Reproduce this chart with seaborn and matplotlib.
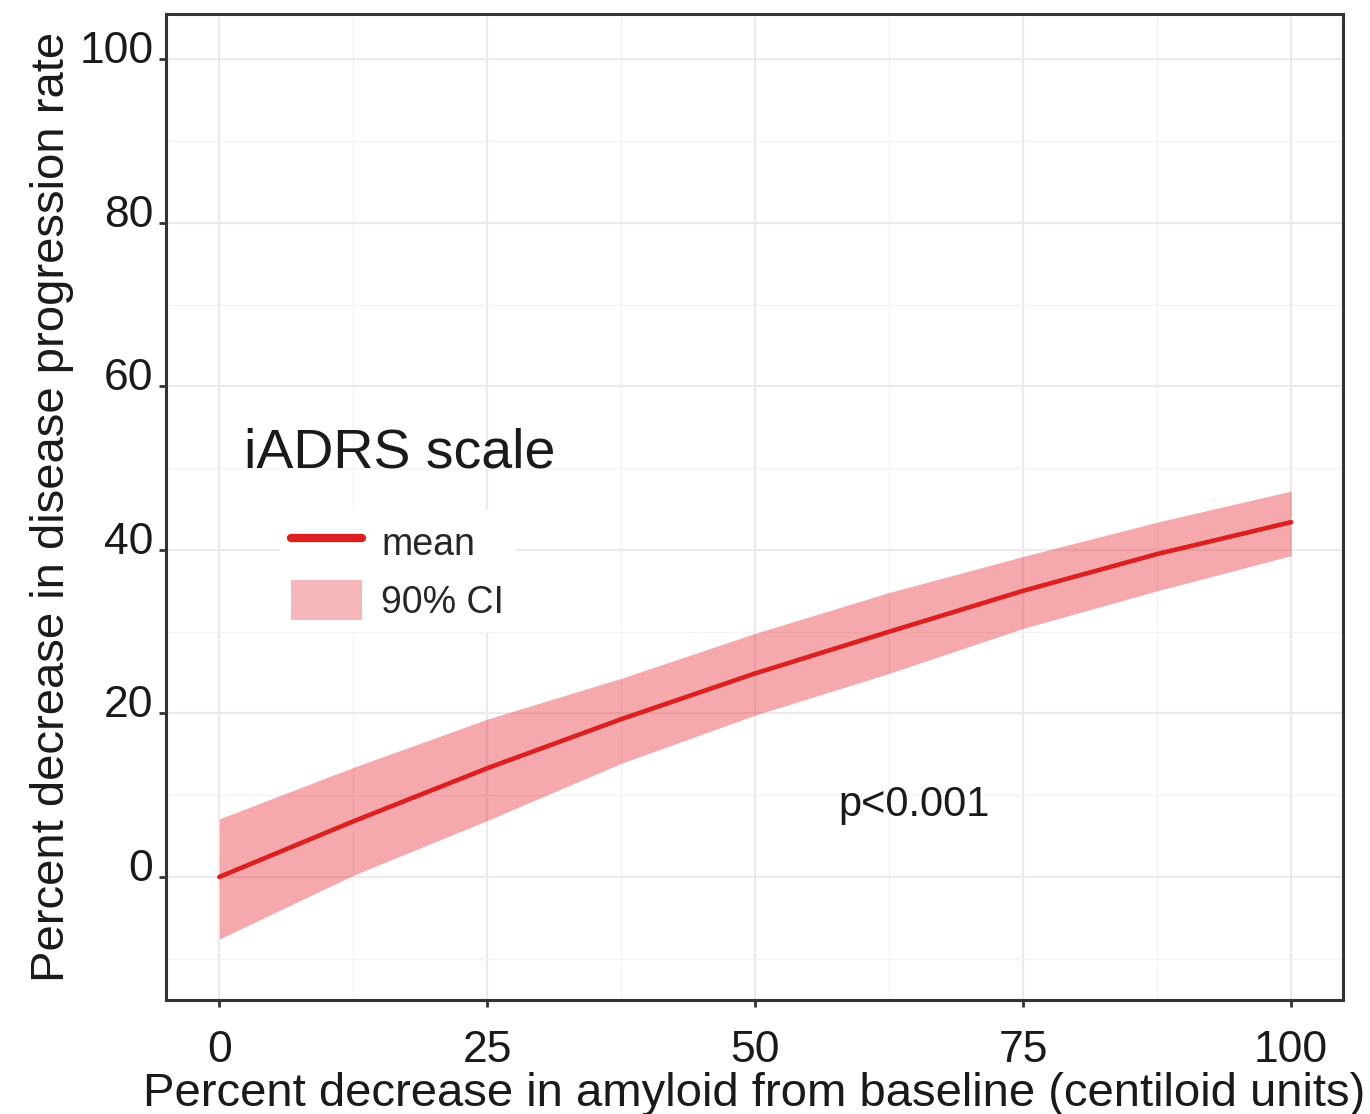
import matplotlib
matplotlib.use("Agg")
from matplotlib import pyplot as plt
from matplotlib.lines import Line2D
from matplotlib.patches import Patch
import matplotlib.transforms as mtransforms
import pandas as pd
import numpy as np
import seaborn as sns

# values
amyloid_pct = [0, 12.5, 25, 37.5, 50, 62.5, 75, 87.5, 100]
mean_pct = [0, 6.8, 13.3, 19.3, 24.9, 30.0, 35.0, 39.5, 43.4]
upper_pct = [7.1, 13.4, 19.3, 24.3, 29.8, 34.8, 39.2, 43.4, 47.2]
lower_pct = [-7.6, 0.2, 6.9, 13.9, 19.8, 24.9, 30.4, 35.0, 39.3]

df = pd.DataFrame({'amyloid': amyloid_pct, 'mean': mean_pct,
                   'lo': lower_pct, 'hi': upper_pct})

sns.set_theme(style='whitegrid')
plt.rcParams['font.family'] = ['Liberation Sans', 'DejaVu Sans']

red = '#dc1f1f'
band = '#e8323a'

fig = plt.figure(figsize=(13.7, 11.14), dpi=100)
ax = fig.add_axes([0.121, 0.102, 0.859, 0.885])

ax.fill_between(df['amyloid'], df['lo'], df['hi'], color=band, alpha=0.42,
                linewidth=0, zorder=2)
sns.lineplot(data=df, x='amyloid', y='mean', color=red, linewidth=3.3, ax=ax,
             zorder=3)

ax.set_xlim(-5, 104.8)
ax.set_ylim(-15.1, 105.5)
ax.set_xticks([0, 25, 50, 75, 100])
ax.set_yticks([0, 20, 40, 60, 80, 100])
ax.set_xticks([12.5, 37.5, 62.5, 87.5], minor=True)
ax.set_yticks([-10, 10, 30, 50, 70, 90], minor=True)

ax.set_facecolor('white')
ax.grid(which='major', color='#ebebeb', linewidth=1.6, zorder=0)
ax.grid(which='minor', color='#f3f3f3', linewidth=0.9, zorder=0)
ax.set_axisbelow(True)
for s in ax.spines.values():
    s.set_color('#333333')
    s.set_linewidth(2.2)

ax.tick_params(axis='both', which='major', length=5, width=2, color='#333333',
               labelsize=32, labelcolor='#1a1a1a', direction='out',
               bottom=True, left=True)
ax.tick_params(axis='both', which='minor', length=0)
ax.tick_params(axis='x', pad=16)
ax.tick_params(axis='y', pad=4)

# y tick labels sit a little above their ticks in the original
off = mtransforms.ScaledTranslation(0, 12 / 100, fig.dpi_scale_trans)
for lab in ax.get_yticklabels():
    lab.set_transform(lab.get_transform() + off)

ax.set_xlabel('Percent decrease in amyloid from baseline (centiloid units)',
              fontsize=34, color='#1a1a1a', labelpad=1)
ax.set_ylabel('Percent decrease in disease progression rate',
              fontsize=34, color='#1a1a1a', labelpad=4)

ax.text(2.3, 51.8, 'iADRS scale', fontsize=40, color='#1a1a1a',
        ha='left', va='center')

handles = [Line2D([0], [0], color=red, linewidth=6),
           Patch(facecolor=band, alpha=0.35, edgecolor='none')]
leg = ax.legend(handles, ['mean', '90% CI'], loc='upper left',
                bbox_to_anchor=(0.097, 0.497), borderaxespad=0,
                fontsize=27, frameon=True, facecolor='white',
                edgecolor='none', framealpha=1, handlelength=1.9,
                handleheight=1.3, labelspacing=0.45, borderpad=0.3,
                handletextpad=0.5)

ax.text(64.8, 8.8, 'p<0.001', fontsize=30, color='#1a1a1a',
        ha='center', va='center')

fig.savefig('out.png', dpi=100)
